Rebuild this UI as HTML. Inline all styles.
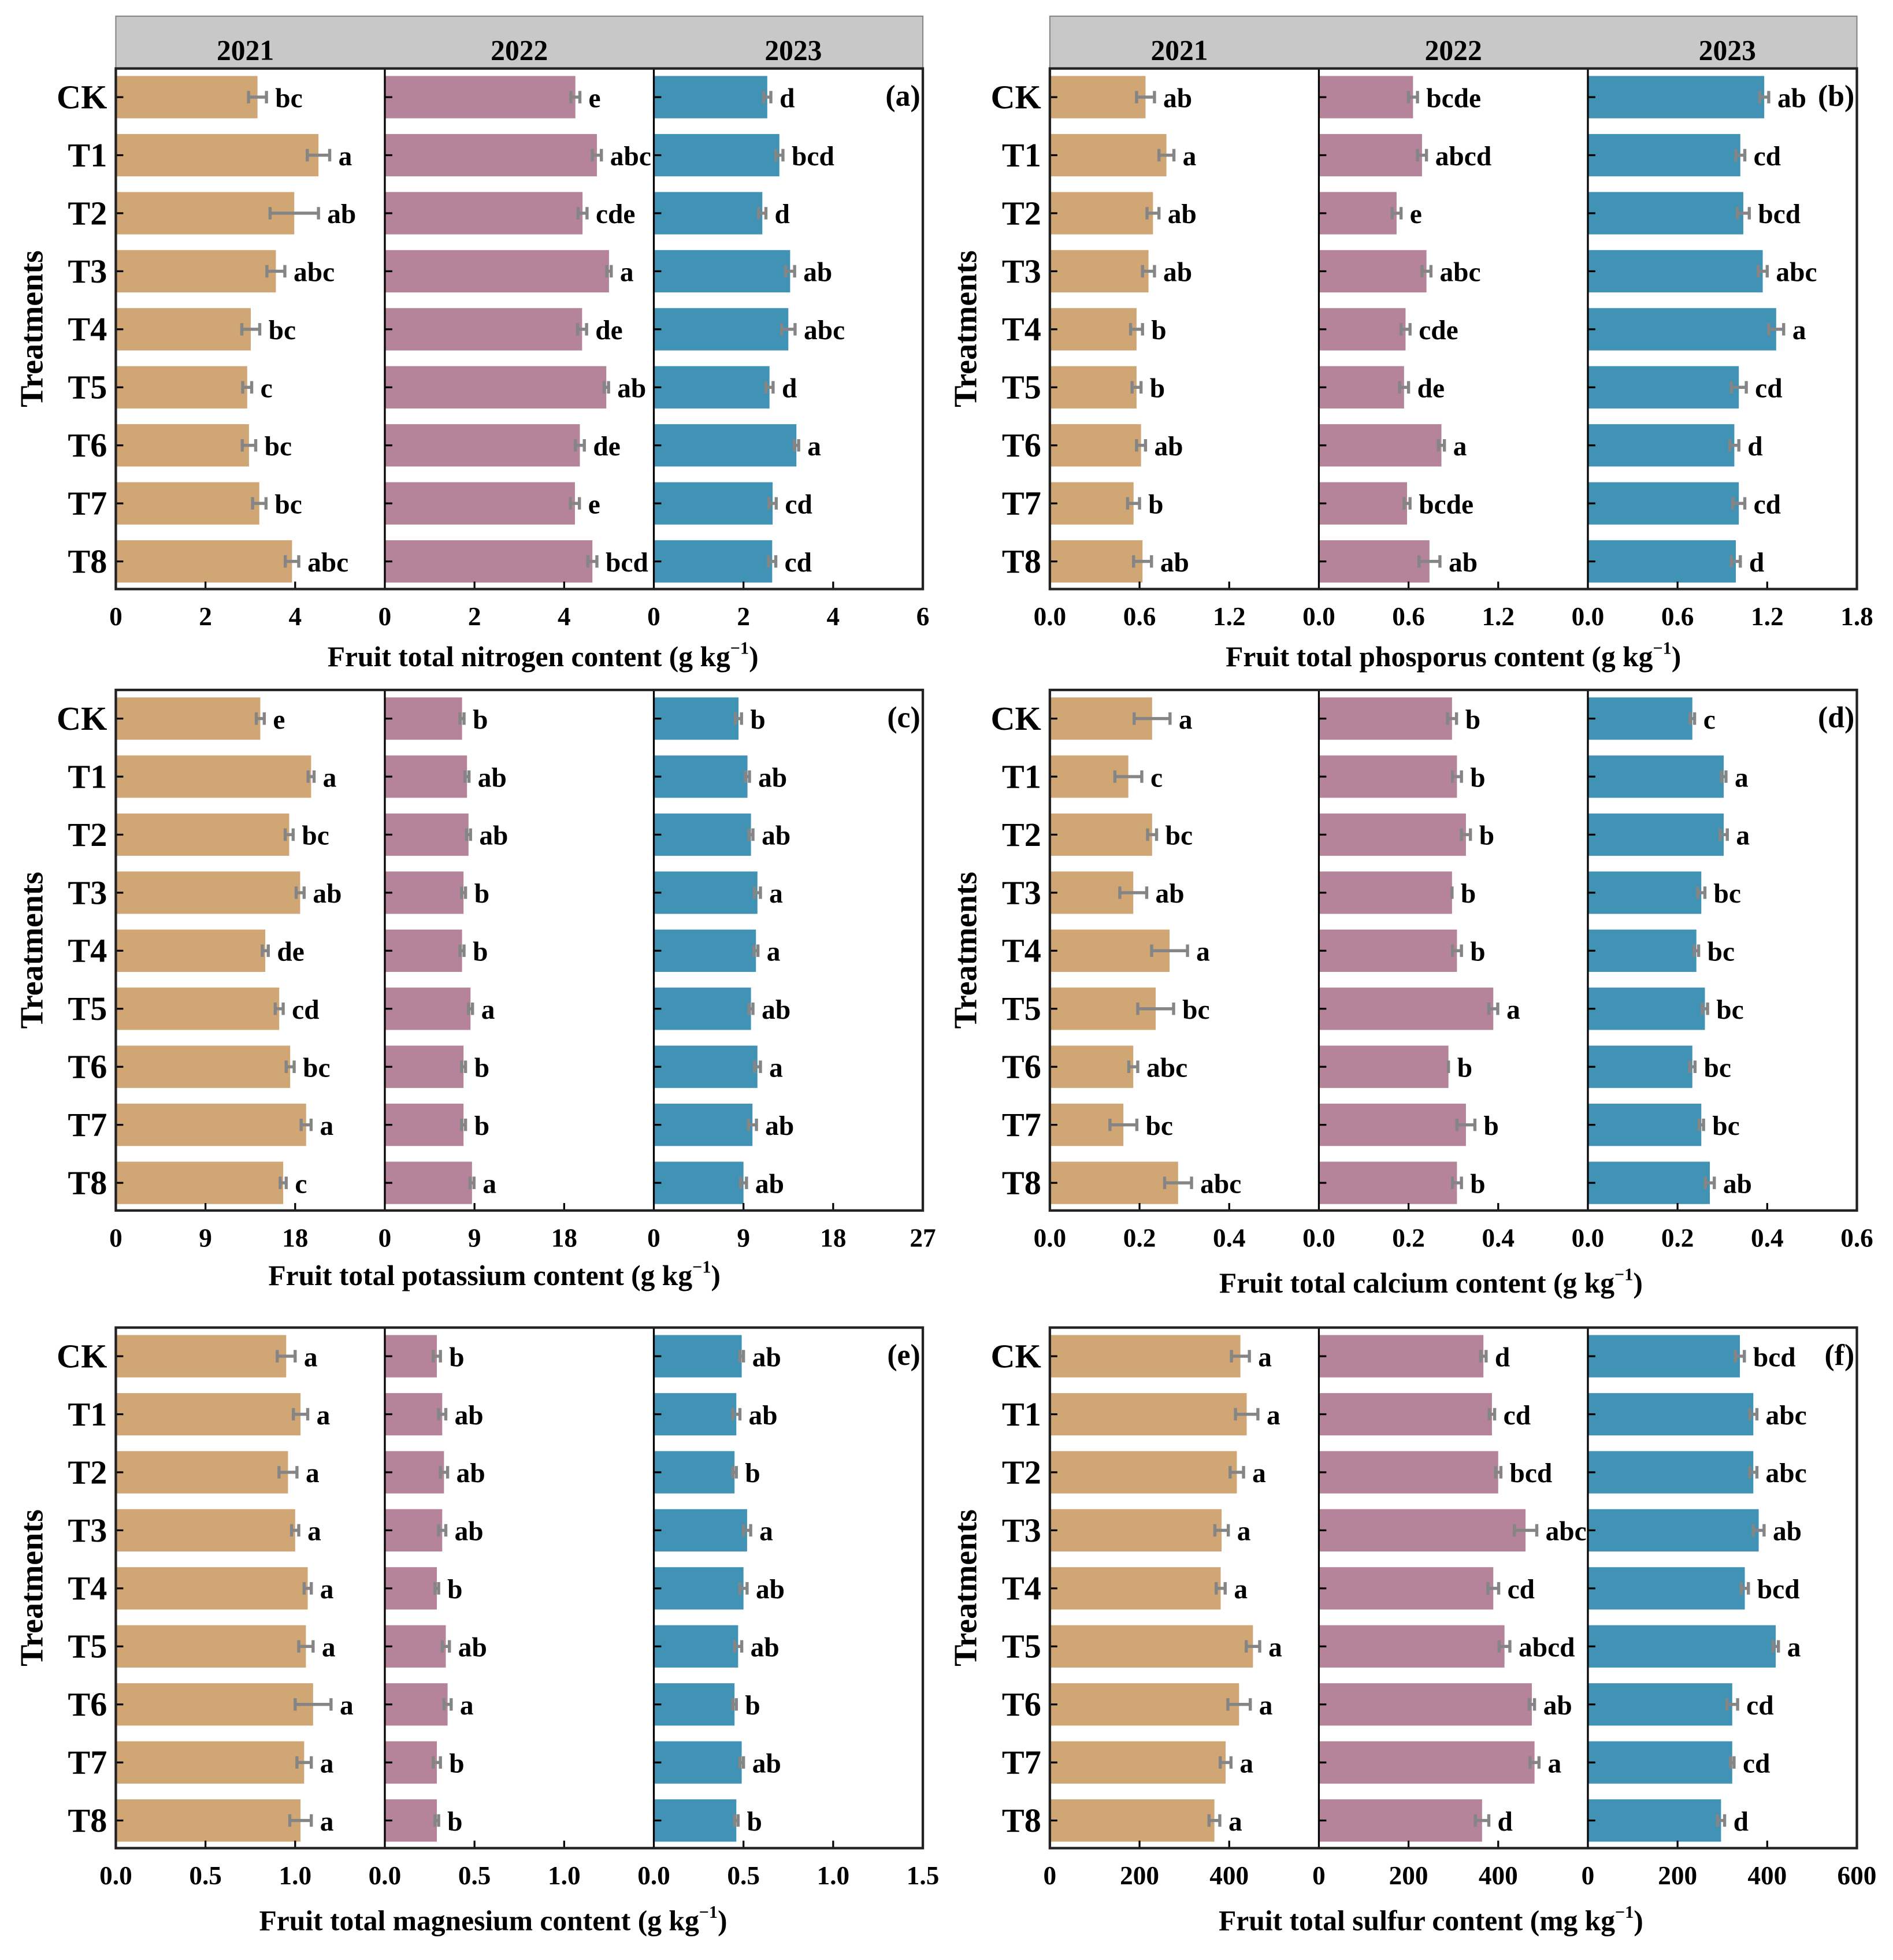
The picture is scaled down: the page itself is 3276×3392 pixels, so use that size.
<!DOCTYPE html>
<html><head><meta charset="utf-8"><style>
html,body{margin:0;padding:0;background:#fff;}
svg, svg text{font-family:"Liberation Serif","Times New Roman",serif;font-weight:bold;}
</style></head><body>
<svg id="chart" width="3276" height="3387" viewBox="0 0 1520 1571.5" preserveAspectRatio="none" xmlns="http://www.w3.org/2000/svg" font-family="Liberation Serif, serif" font-weight="bold"></svg>
<script>
const categories = ["CK","T1","T2","T3","T4","T5","T6","T7","T8"];
const years = ["2021","2022","2023"];

const nitroVals21 = [3.16,4.52,3.98,3.57,3.01,2.93,2.97,3.2,3.93];
const nitroErr21 = [0.2,0.25,0.54,0.2,0.2,0.1,0.15,0.15,0.15];
const nitroLet21 = ["bc","a","ab","abc","bc","c","bc","bc","abc"];
const nitroVals22 = [4.25,4.73,4.41,5.0,4.4,4.94,4.35,4.24,4.63];
const nitroErr22 = [0.1,0.1,0.1,0.05,0.1,0.05,0.1,0.1,0.1];
const nitroLet22 = ["e","abc","cde","a","de","ab","de","e","bcd"];
const nitroVals23 = [2.53,2.8,2.42,3.04,3.0,2.58,3.18,2.65,2.64];
const nitroErr23 = [0.08,0.08,0.08,0.1,0.15,0.08,0.05,0.08,0.08];
const nitroLet23 = ["d","bcd","d","ab","abc","d","a","cd","cd"];

const phosVals21 = [0.64,0.78,0.69,0.66,0.58,0.58,0.61,0.56,0.62];
const phosErr21 = [0.06,0.05,0.04,0.04,0.04,0.03,0.03,0.04,0.06];
const phosLet21 = ["ab","a","ab","ab","b","b","ab","b","ab"];
const phosVals22 = [0.63,0.69,0.52,0.72,0.58,0.57,0.82,0.59,0.74];
const phosErr22 = [0.03,0.03,0.03,0.03,0.03,0.03,0.02,0.02,0.07];
const phosLet22 = ["bcde","abcd","e","abc","cde","de","a","bcde","ab"];
const phosVals23 = [1.18,1.02,1.04,1.17,1.26,1.01,0.98,1.01,0.99];
const phosErr23 = [0.03,0.03,0.04,0.03,0.05,0.05,0.03,0.04,0.03];
const phosLet23 = ["ab","cd","bcd","abc","a","cd","d","cd","d"];

const potVals21 = [14.5,19.6,17.4,18.5,15.0,16.4,17.5,19.1,16.8];
const potErr21 = [0.4,0.3,0.4,0.4,0.3,0.4,0.4,0.5,0.3];
const potLet21 = ["e","a","bc","ab","de","cd","bc","a","c"];
const potVals22 = [7.75,8.25,8.4,7.9,7.75,8.6,7.9,7.9,8.75];
const potErr22 = [0.2,0.2,0.2,0.2,0.2,0.2,0.2,0.2,0.2];
const potLet22 = ["b","ab","ab","b","b","a","b","b","a"];
const potVals23 = [8.5,9.4,9.75,10.4,10.25,9.75,10.4,9.9,9.0];
const potErr23 = [0.3,0.2,0.2,0.3,0.2,0.2,0.3,0.4,0.3];
const potLet23 = ["b","ab","ab","a","a","ab","a","ab","ab"];

const calVals21 = [0.228,0.175,0.228,0.186,0.267,0.236,0.186,0.164,0.286];
const calErr21 = [0.04,0.03,0.01,0.03,0.04,0.04,0.01,0.03,0.03];
const calLet21 = ["a","c","bc","ab","a","bc","abc","bc","abc"];
const calVals22 = [0.297,0.308,0.328,0.297,0.308,0.389,0.289,0.328,0.308];
const calErr22 = [0.01,0.01,0.01,0,0.01,0.01,0,0.02,0.01];
const calLet22 = ["b","b","b","b","b","a","b","b","b"];
const calVals23 = [0.233,0.303,0.303,0.253,0.242,0.261,0.233,0.253,0.272];
const calErr23 = [0.005,0.005,0.008,0.008,0.005,0.006,0.006,0.005,0.01];
const calLet23 = ["c","a","a","bc","bc","bc","bc","bc","ab"];

const magVals21 = [0.95,1.03,0.96,1.0,1.07,1.06,1.1,1.05,1.03];
const magErr21 = [0.05,0.04,0.05,0.02,0.02,0.04,0.1,0.04,0.06];
const magLet21 = ["a","a","a","a","a","a","a","a","a"];
const magVals22 = [0.29,0.32,0.33,0.32,0.29,0.34,0.35,0.29,0.29];
const magErr22 = [0.02,0.02,0.02,0.02,0.01,0.02,0.02,0.02,0.01];
const magLet22 = ["b","ab","ab","ab","b","ab","a","b","b"];
const magVals23 = [0.49,0.46,0.45,0.52,0.5,0.47,0.45,0.49,0.46];
const magErr23 = [0.01,0.02,0.01,0.02,0.02,0.02,0.01,0.01,0.01];
const magLet23 = ["ab","ab","b","a","ab","ab","b","ab","b"];

const sulVals21 = [425,439,417,383,381,453,422,392,367];
const sulErr21 = [20,25,15,15,10,15,25,12,12];
const sulLet21 = ["a","a","a","a","a","a","a","a","a"];
const sulVals22 = [367,386,400,461,389,414,475,481,364];
const sulErr22 = [6,6,6,25,12,12,6,10,15];
const sulLet22 = ["d","cd","bcd","abc","cd","abcd","ab","a","d"];
const sulVals23 = [339,369,369,381,350,419,322,322,297];
const sulErr23 = [10,8,8,12,8,6,12,4,8];
const sulLet23 = ["bcd","abc","abc","ab","bcd","a","cd","cd","d"];

const ticksA = [0,2,4,6];
const ticksB = [0,0.6,1.2,1.8];
const ticksC = [0,9,18,27];
const ticksD = [0,0.2,0.4,0.6];
const ticksE = [0,0.5,1.0,1.5];
const ticksF = [0,200,400,600];

const svg = document.getElementById('chart');
const NS = 'http://www.w3.org/2000/svg';
const colors = ['#CFA674','#B5839A','#4193B5'];
function mk(tag, attrs, parent){
  const e = document.createElementNS(NS, tag);
  for (const k in attrs) e.setAttribute(k, attrs[k]);
  (parent||svg).appendChild(e);
  return e;
}
function txt(s, x, y, size, anchor, parent){
  const t = mk('text', {x:x, y:y, 'font-size':size, 'text-anchor':anchor||'start', fill:'#000', 'font-family':'Liberation Serif, serif', 'font-weight':'bold'}, parent);
  t.textContent = s;
  return t;
}

function drawPanel(p){
  const g = mk('g', {});
  
  
  const L = p.x0, R = p.x0 + 648, T = p.y0, B = p.y0 + 418;
  const sw = 216;
  const max = p.ticks[p.ticks.length-1];
  const ticksFmt = p.fmt;
  const rowY = i => T + 23 + i * 46.6;
  if (p.header){
    const h = mk('rect', {x:L, y:T-42, width:648, height:42, fill:'#C8C8C8', stroke:'#888', 'stroke-width':1}, g);
    
    
    years.forEach((yr, j) => {
      const t = txt(yr, L + sw*j + sw/2 + (j-1)*4, T - 7, 23, 'middle', g);
      
      
    });
  }
  for (let j = 0; j < 3; j++){
    const sx0 = L + sw*j;
    const xs = v => sx0 + v / max * sw;
    const vals = p.vals[j], errs = p.errs[j], lets = p.lets[j];
    vals.forEach((v, i) => {
      const cy = rowY(i);
      const bar = mk('rect', {x:sx0, y:cy-17, width:xs(v)-sx0, height:34, fill:colors[j]}, g);
      
      
      const e = errs[i];
      const e1 = xs(v - e), e2 = xs(v + e);
      const eb = mk('path', {d:`M${e1} ${cy}H${e2}M${e1} ${cy-5}V${cy+5}M${e2} ${cy-5}V${cy+5}`, stroke:'#858585', 'stroke-width':2.5, fill:'none'}, g);
      
      
      const lt = txt(lets[i], Math.max(e2, xs(v)) + 7, cy + 8, 22, 'start', g);
      
      
      mk('line', {x1:sx0, x2:sx0+6, y1:cy, y2:cy, stroke:'#000', 'stroke-width':1.5}, g);
    });
    p.ticks.forEach((tv, k) => {
      const tx = xs(tv);
      if (k > 0 && k < p.ticks.length-1) mk('line', {x1:tx, x2:tx, y1:B, y2:B-6, stroke:'#000', 'stroke-width':1.5}, g);
      if (k < p.ticks.length-1 || j === 2){
        const tl = txt(ticksFmt(tv), tx, B + 29, 21, 'middle', g);
        
        
      }
    });
    if (j > 0) mk('line', {x1:sx0, x2:sx0, y1:T, y2:B, stroke:'#000', 'stroke-width':1.5}, g);
  }
  const frame = mk('rect', {x:L, y:T, width:648, height:418, fill:'none', stroke:'#222', 'stroke-width':2}, g);
  
  
  categories.forEach((c, i) => {
    const cl = txt(c, L - 7, rowY(i) + 9, 27, 'end', g);
    
    
  });
  const yt = txt('Treatments', 0, 0, 26, 'middle', g);
  yt.setAttribute('transform', `translate(${L-59},${T+209}) rotate(-90)`);
  
  
  const pl = txt('(' + p.id + ')', R - 2, T + 30, 24, 'end', g);
  
  
  const xt = mk('text', {x:p.lx, y:B + p.ly, 'font-size':23, 'text-anchor':'middle', 'font-family':'Liberation Serif, serif', 'font-weight':'bold'}, g);
  
  
  xt.innerHTML = p.label + ' (' + p.unit + ' kg<tspan dy="-10" font-size="14">−1</tspan><tspan dy="10">)</tspan>';
}

const f1 = v => String(v);
const fd = v => v.toFixed(1);
drawPanel({id:'a', x0:93, y0:55, header:true, ticks:ticksA, fmt:f1, vals:[nitroVals21,nitroVals22,nitroVals23], errs:[nitroErr21,nitroErr22,nitroErr23], lets:[nitroLet21,nitroLet22,nitroLet23], label:'Fruit total nitrogen content', unit:'g', lx:436, ly:62});
drawPanel({id:'b', x0:843, y0:55, header:true, ticks:ticksB, fmt:fd, vals:[phosVals21,phosVals22,phosVals23], errs:[phosErr21,phosErr22,phosErr23], lets:[phosLet21,phosLet22,phosLet23], label:'Fruit total phosporus content', unit:'g', lx:1167, ly:62});
drawPanel({id:'c', x0:93, y0:554, header:false, ticks:ticksC, fmt:f1, vals:[potVals21,potVals22,potVals23], errs:[potErr21,potErr22,potErr23], lets:[potLet21,potLet22,potLet23], label:'Fruit total potassium content', unit:'g', lx:397, ly:60});
drawPanel({id:'d', x0:843, y0:554, header:false, ticks:ticksD, fmt:fd, vals:[calVals21,calVals22,calVals23], errs:[calErr21,calErr22,calErr23], lets:[calLet21,calLet22,calLet23], label:'Fruit total calcium content', unit:'g', lx:1149, ly:66});
drawPanel({id:'e', x0:93, y0:1066, header:false, ticks:ticksE, fmt:fd, vals:[magVals21,magVals22,magVals23], errs:[magErr21,magErr22,magErr23], lets:[magLet21,magLet22,magLet23], label:'Fruit total magnesium content', unit:'g', lx:396, ly:66});
drawPanel({id:'f', x0:843, y0:1066, header:false, ticks:ticksF, fmt:f1, vals:[sulVals21,sulVals22,sulVals23], errs:[sulErr21,sulErr22,sulErr23], lets:[sulLet21,sulLet22,sulLet23], label:'Fruit total sulfur content', unit:'mg', lx:1149, ly:66});
</script>
</body></html>
